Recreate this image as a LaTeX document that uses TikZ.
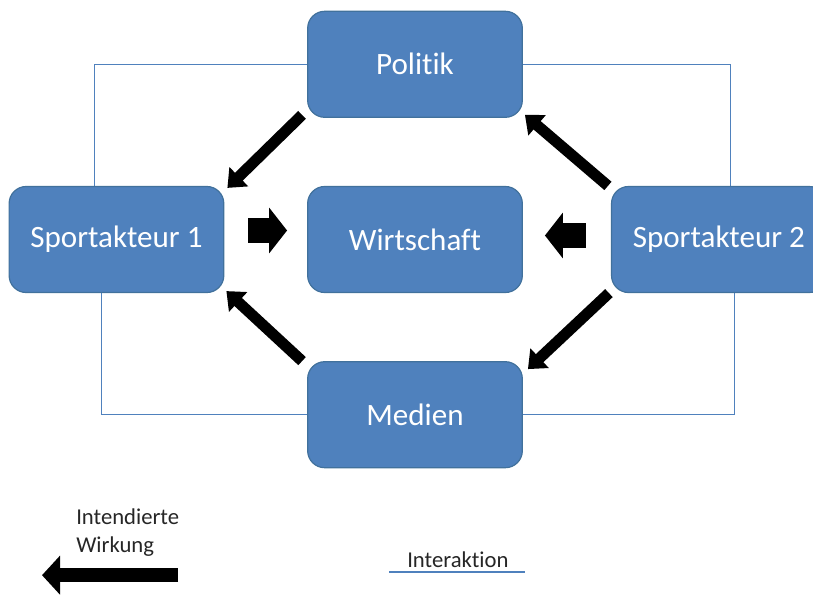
\documentclass[tikz,border=0pt]{standalone}
\usepackage{fontspec}
\setmainfont{Carlito}[Ligatures=NoCommon]
\usepackage{tikz}
\usetikzlibrary{positioning, arrows.meta, calc, backgrounds}
\definecolor{kasten}{HTML}{4F81BD}
\definecolor{rahmen}{HTML}{41719C}
\tikzstyle{akteur} = [rectangle, rounded corners=12.75pt,
minimum width=161pt, minimum height=79.5pt, text centered,
draw=rahmen, line width=0.9pt, fill=kasten, text=white,
font=\fontsize{23.3}{28}\selectfont]
\tikzstyle{linie} = [draw=kasten, line width=0.9pt]
\tikzstyle{pfeil} = [line width=8.25pt,
-{Triangle[length=12pt, width=19.5pt]}]
\tikzstyle{dickpfeil} = [line width=18.75pt,
-{Triangle[length=13.5pt, width=33.75pt]}]
\tikzstyle{legende} = [inner sep=0pt, text=black!85,
font=\fontsize{17}{21}\selectfont, align=left]

\begin{document}
\begin{tikzpicture}[x=0.75pt, y=-0.75pt]
\useasboundingbox (0,0) rectangle (813,596);

\node (wirt) [akteur] at (415,239.5) {Wirtschaft};
\node (pol) [akteur, above=51pt of wirt] {Politik};
\node (med) [akteur, below=51pt of wirt] {Medien};
\node (spa1) [akteur, left=62pt of wirt] {Sportakteur 1};
\node (spa2) [akteur, right=66pt of wirt] {Sportakteur 2};

% Interaktion
\begin{scope}[on background layer]
\draw [linie] (pol.west) -| ($(spa1.north)+(-22,0)$);
\draw [linie] (pol.east) -| ($(spa2.north)+(12,0)$);
\draw [linie] (med.west) -| ($(spa1.south)+(-15,0)$);
\draw [linie] (med.east) -| ($(spa2.south)+(16,0)$);
\end{scope}

% intendierte Wirkung
\draw [pfeil] ($(pol.south west)+(-5,-3)$) -- ($(spa1.north east)+(3,2)$);
\draw [pfeil] ($(spa2.north west)+(-3,0)$) -- ($(pol.south east)+(2,-3)$);
\draw [pfeil] ($(med.north west)+(-5,0)$) -- ($(spa1.south east)+(2,-2)$);
\draw [pfeil] ($(spa2.south west)+(-2,0)$) -- ($(med.north east)+(5,8)$);
\draw [dickpfeil] ($(spa1.east)+(24,-9)$) -- ($(wirt.west)+(-20,-9)$);
\draw [dickpfeil] ($(spa2.west)+(-25,-4)$) -- ($(wirt.east)+(22,-4)$);

% Legende
\node (wirkung) [legende, anchor=north west] at (76,508)
{Intendierte\\Wirkung};
\coordinate (lpa) at ($(wirkung.south west)+(102,19)$);
\coordinate (lpb) at ($(wirkung.south west)+(-34,19)$);
\draw [line width=10.5pt, -{Triangle[length=13.5pt, width=28.5pt]}]
(lpa) -- (lpb);

\node (inter) [legende, anchor=base west] at (407,567) {Interaktion};
\draw [linie] ($(inter.base west)+(-18,5)$) -- ($(inter.base east)+(16,5)$);

\end{tikzpicture}
\end{document}
